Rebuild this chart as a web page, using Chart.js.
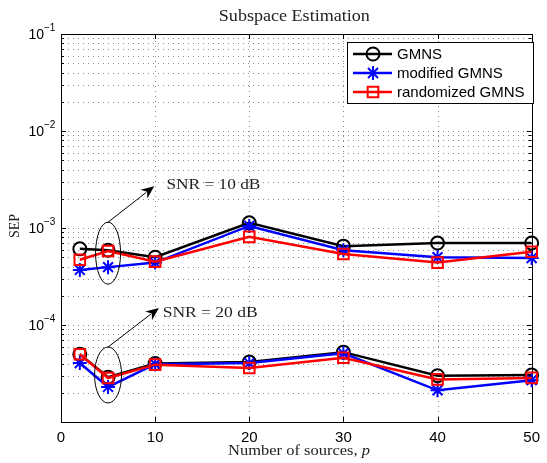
<!DOCTYPE html>
<html>
<head>
<meta charset="utf-8">
<script src="https://cdn.jsdelivr.net/npm/chart.js@4.4.0/dist/chart.umd.min.js"></script>
<style>
  html, body { margin: 0; padding: 0; background: #fff; }
</style>
</head>
<body>
<canvas id="sep" width="547" height="463"></canvas>
<script>
// number of sources p
const sources = [2, 5, 10, 20, 30, 40, 50];

// SEP at SNR = 10 dB
const gmns10 = [6.1e-4, 5.9e-4, 5.0e-4, 1.13e-3, 6.5e-4, 7.0e-4, 7.0e-4];
const modified10 = [3.7e-4, 3.95e-4, 4.4e-4, 1.05e-3, 5.9e-4, 5.0e-4, 4.9e-4];
const randomized10 = [4.7e-4, 5.8e-4, 4.5e-4, 8.1e-4, 5.4e-4, 4.4e-4, 5.7e-4];

// SEP at SNR = 20 dB
const gmns20 = [5.0e-5, 2.9e-5, 4.0e-5, 4.15e-5, 5.25e-5, 3.0e-5, 3.05e-5];
const modified20 = [4.05e-5, 2.3e-5, 3.95e-5, 4.05e-5, 5.1e-5, 2.12e-5, 2.7e-5];
const randomized20 = [5.0e-5, 2.84e-5, 3.9e-5, 3.6e-5, 4.6e-5, 2.75e-5, 2.85e-5];

const xTicks = [0, 10, 20, 30, 40, 50];
const yExponents = [-5, -4, -3, -2, -1];
const yLabelExponents = [-4, -3, -2, -1];
const methodNames = ['GMNS', 'modified GMNS', 'randomized GMNS'];
const snrNotes = ['SNR = 10 dB', 'SNR = 20 dB'];

const SANS = '"Liberation Sans", Arial, sans-serif';
const SERIF = '"Liberation Serif", "Times New Roman", serif';

const methodStyle = [
  { color: '#000000', pointStyle: 'circle', radius: 6.5, order: 3 },
  { color: '#0000ff', pointStyle: 'star', radius: 7, order: 2 },
  { color: '#ff0000', pointStyle: 'rect', radius: 7.5, order: 1 }
];

// ellipse + arrow + text for each SNR group (ellipse centre in data units)
const notes = [
  { cx: 5, cy: 5.5e-4, rx: 12.5, ry: 31, tipX: 9.9, tipY: 2.7e-3, textX: 11.2, textY: 2.8e-3, width: 94 },
  { cx: 5, cy: 3.05e-5, rx: 13.5, ry: 28, tipX: 10.4, tipY: 1.5e-4, textX: 10.8, textY: 1.33e-4, width: 95 }
];

function points(vals) {
  return sources.map((s, i) => ({ x: s, y: vals[i] }));
}

function makeSet(k, vals) {
  const st = methodStyle[k];
  return {
    label: methodNames[k],
    data: points(vals),
    borderColor: st.color,
    backgroundColor: st.color,
    borderWidth: 2.5,
    pointStyle: st.pointStyle,
    pointRadius: st.radius,
    pointBorderWidth: 2,
    pointBorderColor: st.color,
    pointBackgroundColor: 'rgba(0,0,0,0)',
    tension: 0,
    clip: false,
    order: st.order
  };
}

const datasets = [
  makeSet(0, gmns10), makeSet(1, modified10), makeSet(2, randomized10),
  makeSet(0, gmns20), makeSet(1, modified20), makeSet(2, randomized20)
];

// draw a string stretched horizontally to a given width
function stretchText(ctx, str, x, y, width, font, align) {
  ctx.save();
  ctx.font = font;
  const w = ctx.measureText(str).width;
  ctx.translate(x, y);
  ctx.scale(width / w, 1);
  ctx.textAlign = align;
  ctx.textBaseline = 'middle';
  ctx.fillText(str, 0, 0);
  ctx.restore();
}

function seg(ctx, x1, y1, x2, y2) {
  ctx.beginPath();
  ctx.moveTo(x1, y1);
  ctx.lineTo(x2, y2);
  ctx.stroke();
}

const axesBox = {
  id: 'axesBox',
  beforeDatasetsDraw(chart) {
    const { ctx, chartArea: a, scales: { x, y } } = chart;
    ctx.save();
    ctx.lineWidth = 1;

    // dotted grid
    ctx.strokeStyle = 'rgba(0,0,0,0.45)';
    ctx.setLineDash([1, 4]);
    y.ticks.forEach(t => {
      const py = Math.round(y.getPixelForValue(t.value)) + 0.5;
      if (py <= a.top + 1 || py >= a.bottom - 1) return;
      seg(ctx, a.left + 2, py, a.right, py);
    });
    x.ticks.forEach(t => {
      const px = Math.round(x.getPixelForValue(t.value)) + 0.5;
      if (px <= a.left + 1 || px >= a.right - 1) return;
      seg(ctx, px, a.top + 2, px, a.bottom);
    });

    // inward tick marks
    ctx.setLineDash([]);
    ctx.strokeStyle = '#000';
    y.ticks.forEach(t => {
      const py = Math.round(y.getPixelForValue(t.value)) + 0.5;
      const len = t.major ? 5 : 3;
      seg(ctx, a.left, py, a.left + len, py);
      seg(ctx, a.right, py, a.right - len, py);
    });
    x.ticks.forEach(t => {
      const px = Math.round(x.getPixelForValue(t.value)) + 0.5;
      seg(ctx, px, a.bottom, px, a.bottom - 5);
      seg(ctx, px, a.top, px, a.top + 5);
    });

    // frame
    ctx.strokeStyle = '#000';
    ctx.strokeRect(Math.round(a.left) + 0.5, Math.round(a.top) + 0.5,
      Math.round(a.right - a.left), Math.round(a.bottom - a.top));
    ctx.restore();
  },
  afterDatasetsDraw(chart) {
    const { ctx, chartArea: a, scales: { x, y } } = chart;
    ctx.save();

    // y tick labels 10^k
    ctx.fillStyle = '#000';
    yLabelExponents.forEach(e => {
      const py = y.getPixelForValue(Math.pow(10, e));
      ctx.font = '14px ' + SANS;
      ctx.textAlign = 'right';
      ctx.textBaseline = 'middle';
      ctx.fillText('10', 44, py + 1);
      ctx.font = '10px ' + SANS;
      ctx.textAlign = 'left';
      ctx.fillText('\u2212' + Math.abs(e), 44, py - 6);
    });

    // title and axis labels
    ctx.fillStyle = '#222';
    stretchText(ctx, 'Subspace Estimation', (a.left + a.right) / 2 - 2, 17, 151, '16px ' + SERIF, 'center');

    ctx.font = '15px ' + SERIF;
    const part1 = 'Number of sources, ';
    const w1 = ctx.measureText(part1).width;
    ctx.font = 'italic 15px ' + SERIF;
    const w2 = ctx.measureText('p').width;
    const sx = 142 / (w1 + w2);
    ctx.save();
    ctx.translate(299 - 71, 451);
    ctx.scale(sx, 1);
    ctx.textAlign = 'left';
    ctx.textBaseline = 'middle';
    ctx.font = '15px ' + SERIF;
    ctx.fillText(part1, 0, 0);
    ctx.font = 'italic 15px ' + SERIF;
    ctx.fillText('p', w1, 0);
    ctx.restore();

    ctx.save();
    ctx.translate(15, 226);
    ctx.rotate(-Math.PI / 2);
    ctx.font = '14px ' + SERIF;
    ctx.textAlign = 'center';
    ctx.textBaseline = 'middle';
    ctx.fillText('SEP', 0, 0);
    ctx.restore();

    // SNR notes: ellipse, arrow, text
    notes.forEach((n, i) => {
      const cx = x.getPixelForValue(n.cx);
      const cy = y.getPixelForValue(n.cy);
      ctx.strokeStyle = '#000';
      ctx.lineWidth = 1;
      ctx.beginPath();
      ctx.ellipse(cx, cy, n.rx, n.ry, 0, 0, Math.PI * 2);
      ctx.stroke();

      const sx0 = cx, sy0 = cy - n.ry;
      const tx = x.getPixelForValue(n.tipX);
      const ty = y.getPixelForValue(n.tipY);
      const ang = Math.atan2(ty - sy0, tx - sx0);
      const hl = 13, hw = 5.5;
      const bx = tx - hl * Math.cos(ang), by = ty - hl * Math.sin(ang);
      seg(ctx, sx0, sy0, bx + 3 * Math.cos(ang), by + 3 * Math.sin(ang));
      ctx.fillStyle = '#000';
      ctx.beginPath();
      ctx.moveTo(tx, ty);
      ctx.lineTo(bx + hw * Math.sin(ang), by - hw * Math.cos(ang));
      ctx.lineTo(bx + 4 * Math.cos(ang), by + 4 * Math.sin(ang));
      ctx.lineTo(bx - hw * Math.sin(ang), by + hw * Math.cos(ang));
      ctx.closePath();
      ctx.fill();

      ctx.fillStyle = '#222';
      stretchText(ctx, snrNotes[i], x.getPixelForValue(n.textX), y.getPixelForValue(n.textY),
        n.width, '15px ' + SERIF, 'left');
    });

    // legend box
    const lx = 347.5, ly = 42.5, lw = 186, lh = 61;
    ctx.fillStyle = '#fff';
    ctx.fillRect(lx, ly, lw, lh);
    ctx.strokeStyle = '#000';
    ctx.lineWidth = 1;
    ctx.strokeRect(lx, ly, lw, lh);
    methodNames.forEach((name, k) => {
      const st = methodStyle[k];
      const ry = 54 + k * 19;
      ctx.strokeStyle = st.color;
      ctx.lineWidth = 2.5;
      seg(ctx, 353, ry, 392, ry);
      ctx.lineWidth = 2;
      ctx.fillStyle = 'rgba(0,0,0,0)';
      Chart.helpers.drawPoint(ctx, {
        pointStyle: st.pointStyle, radius: st.radius, rotation: 0, borderWidth: 2
      }, 373, ry);
      ctx.fillStyle = '#000';
      ctx.font = '15px ' + SANS;
      ctx.textAlign = 'left';
      ctx.textBaseline = 'middle';
      ctx.fillText(name, 397, ry + 1);
    });
    ctx.restore();
  }
};

new Chart(document.getElementById('sep'), {
  type: 'line',
  data: { datasets },
  options: {
    responsive: false,
    devicePixelRatio: 1,
    animation: false,
    events: [],
    layout: { padding: { left: 61, right: 9, top: 34, bottom: 0 } },
    plugins: {
      legend: { display: false },
      title: { display: false },
      tooltip: { enabled: false }
    },
    scales: {
      x: {
        type: 'linear',
        min: 0,
        max: 50,
        afterBuildTicks: s => { s.ticks = xTicks.map(v => ({ value: v })); },
        afterFit: s => { s.height = 41; },
        grid: { display: false, drawTicks: false },
        border: { display: false },
        ticks: {
          color: '#000',
          font: { family: SANS, size: 15 },
          padding: 7,
          maxRotation: 0
        }
      },
      y: {
        type: 'logarithmic',
        min: 1e-5,
        max: 1e-1,
        afterBuildTicks: s => {
          const list = [];
          yExponents.forEach(e => {
            const top = e === -1 ? 1 : 9;
            for (let m = 1; m <= top; m++) list.push({ value: m * Math.pow(10, e), major: m === 1 });
          });
          s.ticks = list;
        },
        afterFit: s => { s.width = 0; },
        grid: { display: false, drawTicks: false },
        border: { display: false },
        ticks: { display: false }
      }
    }
  },
  plugins: [axesBox]
});
</script>
</body>
</html>
